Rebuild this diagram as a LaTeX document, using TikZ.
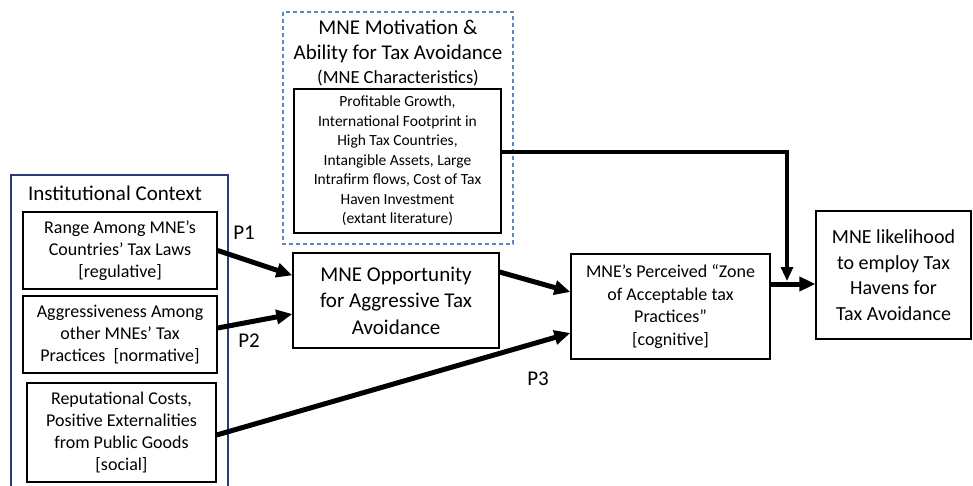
\documentclass[tikz,border=0pt]{standalone}
\usepackage{fontspec}
\setmainfont{Carlito}
\usetikzlibrary{arrows.meta,calc}
\definecolor{ctxblue}{RGB}{40,60,120}
\definecolor{dashblue}{RGB}{95,135,185}
\tikzset{
  box/.style={draw=black, line width=1.3pt, align=center, inner sep=2pt},
  fat/.style={line width=5pt, -{Triangle[length=16pt,width=14pt]}},
  plab/.style={font=\fontsize{21}{24}\selectfont, inner sep=0pt},
}
\begin{document}
\begin{tikzpicture}[x=1pt,y=-1pt]
\useasboundingbox (0,0) rectangle (973,486);
% institutional context frame
\draw[ctxblue, line width=1.2pt] (11,490) -- (11,175) -- (228,175) -- (228,490);
\node[inner sep=0pt, font=\fontsize{21}{24}\selectfont] (ctxt) at (115,193) {Institutional Context};
\node[box, minimum width=194pt, minimum height=77pt, font=\fontsize{18}{22}\selectfont] (r1) at (120,250.5)
  {Range Among MNE’s\\Countries’ Tax Laws\\{[regulative]}};
\node[box, minimum width=194pt, minimum height=77pt, font=\fontsize{18}{22}\selectfont] (r2) at (120,334.5)
  {Aggressiveness Among\\other MNEs’ Tax\\Practices\ \ {[normative]}};
\node[box, minimum width=189pt, minimum height=99pt, font=\fontsize{18}{22}\selectfont] (r3) at (121.5,432.5)
  {Reputational Costs,\\Positive Externalities\\from Public Goods\\{[social]}};
% motivation
\draw[dashblue, line width=1.2pt, dashed, dash pattern=on 4pt off 3pt] (283,12) rectangle (513,244);
\node[inner sep=0pt, align=center, font=\fontsize{21}{25}\selectfont] (mt) at (398,41)
  {MNE Motivation \&\\Ability for Tax Avoidance};
\node[inner sep=0pt, font=\fontsize{18.5}{22}\selectfont] (mc) at (398,78) {(MNE Characteristics)};
\node[box, minimum width=207pt, minimum height=144pt, font=\fontsize{15.5}{19.5}\selectfont] (inner) at (397.5,161)
  {Profitable Growth,\\International Footprint in\\High Tax Countries,\\Intangible Assets, Large\\Intrafirm flows, Cost of Tax\\Haven Investment\\(extant literature)};
% middle
\node[box, minimum width=206pt, minimum height=95pt, font=\fontsize{21}{26.5}\selectfont] (opp) at (396,300.5)
  {MNE Opportunity\\for Aggressive Tax\\Avoidance};
\node[box, minimum width=199pt, minimum height=105pt, font=\fontsize{18}{22.8}\selectfont] (zone) at (670.5,306.5)
  {MNE’s Perceived “Zone\\of Acceptable tax\\Practices”\\{[cognitive]}};
\node[box, minimum width=155pt, minimum height=128pt, font=\fontsize{20}{25.5}\selectfont] (like) at (893.5,275)
  {MNE likelihood\\to employ Tax\\Havens for\\Tax Avoidance};
% arrows
\draw[fat] (r1.east) -- ([yshift=-23pt]opp.north west);
\draw[fat] ([yshift=6.5pt]r2.east) -- ([yshift=-13.5pt]opp.west);
\draw[fat] ([yshift=-2.5pt]r3.east) -- ([yshift=-26.5pt]zone.west);
\draw[fat] ([yshift=28.5pt]opp.east) -- ([yshift=14.5pt]zone.west);
\coordinate (zs) at ([yshift=22.5pt]zone.east);
\draw[fat] (zs) -- (zs -| like.west);
\coordinate (ms) at ([yshift=9pt]inner.east);
\coordinate (mj) at (787,281);
\draw[line width=3.2pt, -{Triangle[length=14pt,width=12pt]}] (ms) -| (mj);
% labels
\node[plab] (p1) at (244,233) {P1};
\node[plab] (p2) at (249,341) {P2};
\node[plab] (p3) at (538,379) {P3};
\end{tikzpicture}
\end{document}
